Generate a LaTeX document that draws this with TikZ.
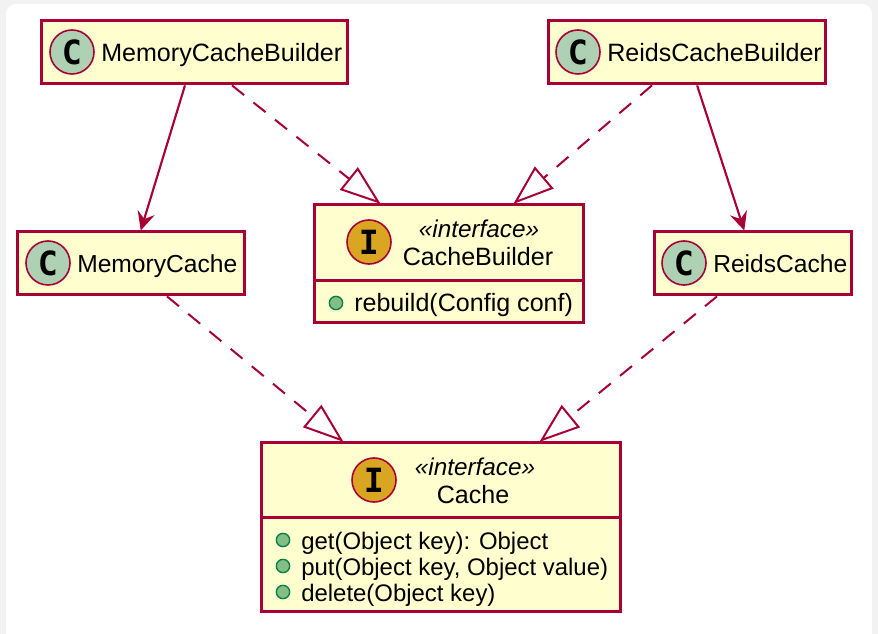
\documentclass[tikz,border=0pt]{standalone}
\usepackage{fontspec}
\setmainfont{Liberation Sans}
\newfontfamily\glyphfont{DejaVu Sans Mono Bold}
\usetikzlibrary{arrows.meta,calc}
\definecolor{umlline}{HTML}{A80036}
\definecolor{umlfill}{HTML}{FEFECE}
\definecolor{classdisc}{HTML}{ADD1B2}
\definecolor{ifacedisc}{HTML}{DAA520}
\definecolor{dotfill}{HTML}{84BE84}
\definecolor{dotline}{HTML}{038048}
\definecolor{pagegray}{HTML}{F2F2F2}
\tikzset{
  x=0.75pt,y=-0.75pt,
  umlbox/.style={fill=umlline,inner sep=0pt,outer sep=0pt,anchor=north west},
  disc/.style={circle,draw=umlline,line width=1.2pt,minimum size=33pt,inner sep=0pt,outer sep=0pt,
     font=\glyphfont\fontsize{25}{25}\selectfont,text=black},
  classdisc/.style={disc,fill=classdisc},
  ifacedisc/.style={disc,fill=ifacedisc},
  label/.style={anchor=base west,inner sep=0pt,font=\fontsize{18.8}{22}\selectfont,text=black},
  labelshort/.style={anchor=base west,inner sep=0pt,font=\fontsize{18.45}{22}\selectfont,text=black},
  member/.style={anchor=base west,inner sep=0pt,font=\fontsize{17.95}{22}\selectfont,text=black},
  centered/.style={anchor=base,inner sep=0pt,font=\fontsize{18.8}{22}\selectfont,text=black},
  stereo/.style={anchor=base,inner sep=0pt,font=\itshape\fontsize{18.2}{20}\selectfont,text=black},
  dot/.style={circle,draw=dotline,fill=dotfill,line width=1pt,minimum size=10pt,inner sep=0pt,outer sep=0pt},
  uses/.style={draw=umlline,line width=1.6pt,shorten >=-0.7pt,-{Stealth[length=14pt,width=13.2pt,inset=5pt]}},
  realizes/.style={draw=umlline,line width=1.5pt,shorten >=-1.5pt,dash pattern=on 11.6pt off 9pt,
     -{Triangle[open,length=30.5pt,width=21.5pt,fill=white]}},
}
\newcommand{\boxat}[5]{%
  \node[umlbox,minimum width=(#4+2.8)*0.75pt,minimum height=(#5+2.8)*0.75pt] (#1) at (#2-1.4,#3-1.4) {};
  \fill[umlfill] ($(#1.north west)+(3.6,3.6)$) rectangle ($(#1.south east)+(-3.6,-3.6)$);}
\newcommand{\dividerat}[3]{\fill[umlline] (#1.west |- 0,#2) rectangle (#1.east |- 0,#3);}
\begin{document}
\begin{tikzpicture}
\useasboundingbox (0,0) rectangle (878,634);
\fill[pagegray] (0,0) rectangle (878,634);
\fill[white,rounded corners=7.5pt] (6,4) rectangle (872,650);
\clip (0,0) rectangle (878,634);

\boxat{mcb}{41}{20}{307}{64}
\boxat{mc}{17}{231}{228}{64}
\boxat{rcb}{548}{20}{278}{64}
\boxat{rc}{654}{231}{198}{64}
\boxat{cb}{314}{204}{270}{119}
\boxat{ca}{261}{442}{360}{170}

\dividerat{cb}{279.1}{281.9}
\dividerat{ca}{516.3}{519.3}

\node[classdisc] (mcbc) at (72,52) {C};
\node[classdisc] (mcc) at (48,263) {C};
\node[classdisc] (rcbc) at (578,52) {C};
\node[classdisc] (rcc) at (684,263) {C};
\node[ifacedisc] (cbi) at (369,242) {I};
\node[ifacedisc] (cai) at (374,480) {I};

\node[label] (mcbt) at (101,61.5) {MemoryCacheBuilder};
\node[labelshort] (mct) at (77,273) {MemoryCache};
\node[label] (rcbt) at (607,61.5) {ReidsCacheBuilder};
\node[labelshort] (rct) at (713,273) {ReidsCache};

\node[stereo] (cbs) at (479,238) {«interface»};
\node[centered] (cbt) at (478,265.5) {CacheBuilder};
\node[dot] (cbd) at (336,303) {};
\node[label] (cbm) at (354,311.5) {rebuild(Config conf)};

\node[stereo] (cas) at (475,475.5) {«interface»};
\node[centered] (cat) at (473,503.5) {Cache};
\node[dot] (cad1) at (283,540) {};
\node[dot] (cad2) at (283,566) {};
\node[dot] (cad3) at (283,592) {};
\node[member] (cam1) at (301,549) {get(Object key): Object};
\node[member] (cam2) at (301,575) {put(Object key, Object value)};
\node[member] (cam3) at (301,601) {delete(Object key)};

\draw[uses] ($(mcb.south west)!0.4693!(mcb.south east)$) -- ($(mc.north west)!0.5433!(mc.north east)$);
\draw[uses] ($(rcb.south west)!0.536!(rcb.south east)$) -- ($(rc.north west)!0.4552!(rc.north east)$);
\draw[realizes] ($(mcb.south west)!0.621!(mcb.south east)$) -- ($(cb.north west)!0.2434!(cb.north east)$);
\draw[realizes] ($(rcb.south west)!0.3753!(rcb.south east)$) -- ($(cb.north west)!0.7416!(cb.north east)$);
\draw[realizes] ($(mc.south west)!0.656!(mc.south east)$) -- ($(ca.north west)!0.2271!(ca.north east)$);
\draw[realizes] ($(rc.south west)!0.3207!(rc.south east)$) -- ($(ca.north west)!0.7757!(ca.north east)$);
\end{tikzpicture}
\end{document}
